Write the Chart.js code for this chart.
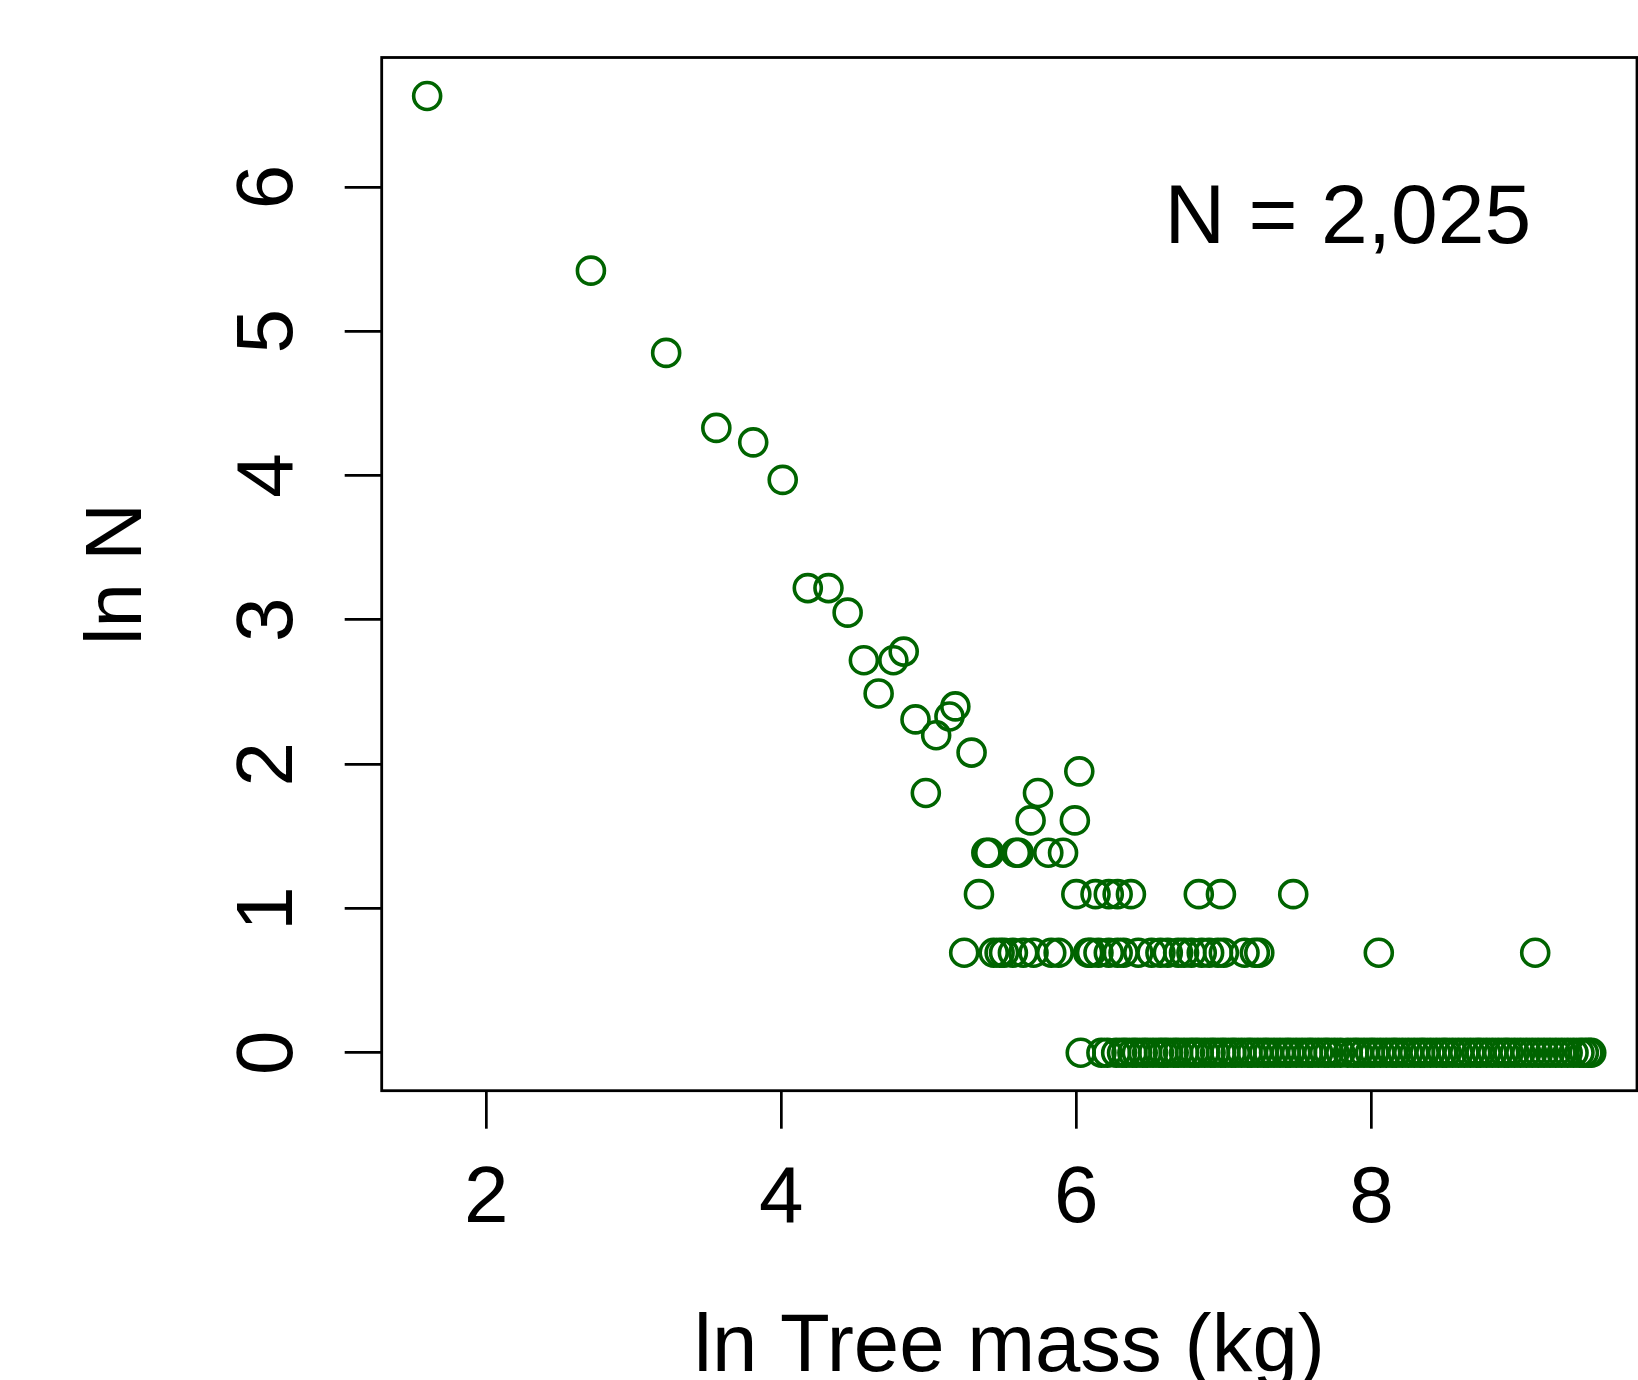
<!DOCTYPE html>
<html>
<head>
<meta charset="utf-8">
<title>ln N vs ln Tree mass</title>
<script src="https://cdn.jsdelivr.net/npm/chart.js@4.4.1/dist/chart.umd.min.js"></script>
<style>
  html, body { margin: 0; padding: 0; background: #fff; overflow: hidden; }
  #tree-mass-chart { display: block; width: 1638px; height: 1380px; }
</style>
</head>
<body>
<canvas id="tree-mass-chart" width="1638" height="1380"></canvas>
<script>
"use strict";
// size classes holding more than four trees: ln(mass) and ln(N)
const lnMassUpper = [1.60, 2.71, 3.22, 3.56, 3.81, 4.01, 4.18, 4.32, 4.45, 4.56, 4.76, 4.83,
    4.66, 4.91, 5.05, 5.14, 5.18, 5.29, 4.98, 5.74, 6.02, 5.69, 5.99];
const lnNUpper = [6.63, 5.42, 4.85, 4.33, 4.23, 3.97, 3.22, 3.22, 3.05, 2.72, 2.72, 2.78,
    2.49, 2.31, 2.20, 2.33, 2.40, 2.08, 1.80, 1.80, 1.95, 1.61, 1.61];
// size classes with 4, 3, 2 and 1 trees (ln N given in rowLnN)
const lnMassFour = [5.39, 5.41, 5.59, 5.61, 5.81, 5.91];
const lnMassThree = [5.34, 6.00, 6.13, 6.22, 6.28, 6.37, 6.83, 6.98, 7.47];
const lnMassTwo = [5.24, 5.44, 5.48, 5.51, 5.57, 5.64, 5.71, 5.83, 5.88, 6.08, 6.10, 6.15,
    6.22, 6.28, 6.32, 6.42, 6.51, 6.57, 6.62, 6.69, 6.73, 6.78, 6.85, 6.90, 6.96, 7.00,
    7.14, 7.21, 7.24, 8.05, 9.11];
const lnMassOne = [6.03, 6.17, 6.21, 6.27, 6.31, 6.34, 6.38, 6.41, 6.45, 6.48, 6.52, 6.56,
    6.59, 6.62, 6.66, 6.69, 6.73, 6.77, 6.80, 6.83, 6.87, 6.91, 6.94, 6.98, 7.01, 7.05,
    7.08, 7.12, 7.16, 7.19, 7.23, 7.27, 7.30, 7.34, 7.38, 7.42, 7.45, 7.49, 7.53, 7.57,
    7.60, 7.64, 7.68, 7.71, 7.75, 7.79, 7.84, 7.88, 7.91, 7.95, 7.99, 8.02, 8.06, 8.10,
    8.14, 8.17, 8.21, 8.25, 8.29, 8.33, 8.36, 8.40, 8.44, 8.48, 8.51, 8.55, 8.59, 8.63,
    8.67, 8.71, 8.74, 8.78, 8.82, 8.86, 8.90, 8.93, 8.97, 9.01, 9.05, 9.09, 9.13, 9.17,
    9.21, 9.25, 9.29, 9.33, 9.37, 9.41, 9.44, 9.47, 9.49];
const rowLnN = [1.386, 1.099, 0.693, 0];
const xTicks = [2, 4, 6, 8];
const yTicks = [0, 1, 2, 3, 4, 5, 6];
const noteText = "N = 2,025";
const noteAt = [7.84, 5.61];

const FONT = "'Liberation Sans', Arial, Helvetica, sans-serif";
const GREEN = "#006400";

// keep the plot box where it is, whatever the tick labels would like
const noScalePadding = (scale) => {
    scale.paddingTop = 0;
    scale.paddingBottom = 0;
    scale.paddingLeft = 0;
    scale.paddingRight = 0;
};

const loadTreeMassChart = () => {
    const points = lnMassUpper.map((x, i) => ({ x: x, y: lnNUpper[i] }));
    [lnMassFour, lnMassThree, lnMassTwo, lnMassOne].forEach((row, r) => {
        row.forEach((x) => points.push({ x: x, y: rowLnN[r] }));
    });

    const frameAndNote = {
        id: "frameAndNote",
        afterDatasetsDraw(chart) {
            const { ctx, chartArea, scales } = chart;
            ctx.save();
            ctx.strokeStyle = "#000";
            ctx.lineWidth = 2.8;
            ctx.strokeRect(chartArea.left, chartArea.top,
                chartArea.right - chartArea.left, chartArea.bottom - chartArea.top);
            ctx.font = "84px " + FONT;
            ctx.fillStyle = "#000";
            ctx.textAlign = "center";
            ctx.textBaseline = "alphabetic";
            ctx.fillText(noteText, scales.x.getPixelForValue(noteAt[0]), scales.y.getPixelForValue(noteAt[1]));
            ctx.restore();
        },
    };

    const chartConfig = {
        type: "scatter",
        data: {
            datasets: [
                {
                    data: points,
                    pointStyle: "circle",
                    pointRadius: 13.5,
                    pointHoverRadius: 13.5,
                    borderWidth: 3.6,
                    borderColor: GREEN,
                    backgroundColor: "rgba(0,0,0,0)",
                },
            ],
        },
        options: {
            responsive: false,
            animation: false,
            events: [],
            devicePixelRatio: 1,
            layout: { autoPadding: false, padding: { top: 57.5, right: 1, left: 0, bottom: 0 } },
            plugins: { legend: { display: false }, tooltip: { enabled: false } },
            scales: {
                x: {
                    type: "linear",
                    min: 1.292,
                    max: 9.8,
                    afterBuildTicks: (scale) => { scale.ticks = xTicks.map((v) => ({ value: v })); },
                    afterFit: (scale) => { scale.height = 289.3; noScalePadding(scale); },
                    border: { display: false },
                    grid: {
                        drawOnChartArea: false,
                        drawTicks: true,
                        tickLength: 38,
                        tickColor: "#000",
                        tickWidth: 2.7,
                        lineWidth: 2.7,
                        color: "#000",
                    },
                    ticks: {
                        autoSkip: false,
                        maxRotation: 0,
                        padding: 31,
                        color: "#000",
                        font: { family: FONT, size: 80, lineHeight: 1 },
                    },
                    title: {
                        display: true,
                        text: "ln Tree mass (kg)",
                        color: "#000",
                        font: { family: FONT, size: 81.5, lineHeight: 0.6 },
                        padding: { top: 0, bottom: 7 },
                    },
                },
                y: {
                    type: "linear",
                    min: -0.263,
                    max: 6.897,
                    afterBuildTicks: (scale) => { scale.ticks = yTicks.map((v) => ({ value: v })); },
                    afterFit: (scale) => { scale.width = 381.7; noScalePadding(scale); },
                    border: { display: false },
                    grid: {
                        drawOnChartArea: false,
                        drawTicks: true,
                        tickLength: 37,
                        tickColor: "#000",
                        tickWidth: 2.7,
                        lineWidth: 2.7,
                        color: "#000",
                    },
                    ticks: {
                        autoSkip: false,
                        minRotation: 90,
                        maxRotation: 90,
                        crossAlign: "center",
                        padding: 53,
                        color: "#000",
                        font: { family: FONT, size: 80, lineHeight: 1 },
                    },
                    title: {
                        display: true,
                        text: "ln N",
                        color: "#000",
                        font: { family: FONT, size: 80, lineHeight: 1 },
                        padding: { top: 79, bottom: 0 },
                    },
                },
            },
        },
        plugins: [frameAndNote],
    };

    const canvas = document.getElementById("tree-mass-chart");
    if (!canvas) {
        return;
    }
    new Chart(canvas, chartConfig);
};
window.addEventListener("load", loadTreeMassChart);
</script>
</body>
</html>
